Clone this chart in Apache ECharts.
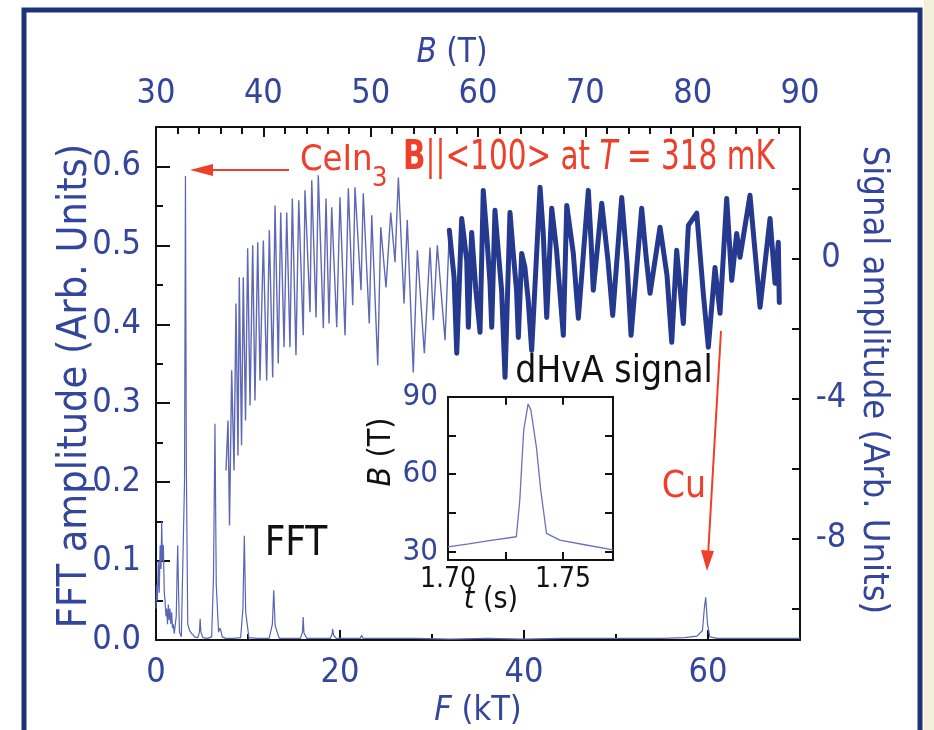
<!DOCTYPE html>
<html>
<head>
<meta charset="utf-8">
<script src="https://cdn.jsdelivr.net/npm/echarts@6/dist/echarts.min.js"></script>
<style>
  html, body { margin: 0; padding: 0; background: #ffffff; }
  #chart { width: 934px; height: 730px; }
</style>
</head>
<body>
<div id="chart"></div>
<script>
// FFT spectrum: frequency (kT) and amplitude (arb. units)
const F_kT = [0.00, 0.07, 0.15, 0.25, 0.35, 0.45, 0.55, 0.62, 0.70, 0.80, 0.90, 0.98, 1.08, 1.16, 1.25, 1.34, 1.43, 1.52, 1.61, 1.70, 1.80, 1.88, 1.98, 2.07, 2.20, 2.30, 2.36, 2.42, 2.55, 2.75, 2.95, 3.10, 3.20, 3.30, 3.45, 3.65, 3.90, 4.20, 4.55, 4.72, 4.80, 4.88, 5.10, 5.60, 6.05, 6.25, 6.41, 6.55, 6.80, 6.95, 7.05, 7.20, 7.60, 8.40, 9.20, 9.45, 9.60, 9.75, 10.10, 11.00, 12.30, 12.65, 12.80, 12.95, 13.40, 14.80, 15.70, 15.92, 16.00, 16.08, 16.40, 17.80, 18.95, 19.15, 19.20, 19.30, 19.60, 21.00, 22.20, 22.35, 22.50, 23.80, 25.40, 25.55, 25.70, 28.00, 32.00, 36.00, 40.00, 44.00, 48.00, 52.00, 55.00, 57.50, 58.80, 59.40, 59.60, 59.75, 59.95, 60.20, 61.00, 63.00, 66.00, 70.00];
const fftAmp = [0.040, 0.070, 0.050, 0.100, 0.060, 0.120, 0.090, 0.150, 0.100, 0.120, 0.060, 0.050, 0.030, 0.040, 0.020, 0.045, 0.025, 0.040, 0.020, 0.035, 0.015, 0.020, 0.008, 0.010, 0.030, 0.090, 0.120, 0.080, 0.010, 0.004, 0.006, 0.200, 0.588, 0.220, 0.020, 0.012, 0.008, 0.004, 0.003, 0.010, 0.027, 0.010, 0.003, 0.002, 0.004, 0.080, 0.274, 0.070, 0.010, 0.015, 0.012, 0.004, 0.002, 0.002, 0.003, 0.040, 0.132, 0.035, 0.003, 0.002, 0.002, 0.020, 0.063, 0.018, 0.002, 0.002, 0.002, 0.010, 0.029, 0.009, 0.002, 0.002, 0.002, 0.008, 0.014, 0.006, 0.002, 0.002, 0.002, 0.006, 0.002, 0.002, 0.002, 0.004, 0.002, 0.002, 0.001, 0.002, 0.001, 0.002, 0.002, 0.002, 0.002, 0.003, 0.005, 0.012, 0.040, 0.054, 0.020, 0.004, 0.002, 0.002, 0.002, 0.002];

// dHvA signal vs field, lower-field part (B in T, signal in arb. units)
const B_low = [36.52, 36.71, 36.85, 37.05, 37.27, 37.45, 37.64, 37.76, 37.97, 38.13, 38.34, 38.54, 38.76, 39.01, 39.22, 39.48, 39.69, 40.00, 40.31, 40.56, 40.87, 41.09, 41.39, 41.62, 41.93, 42.18, 42.48, 42.70, 43.04, 43.30, 43.72, 43.88, 44.35, 44.51, 44.91, 45.12, 45.59, 45.84, 46.12, 46.37, 46.84, 47.14, 47.61, 47.92, 48.33, 48.54, 49.10, 49.31, 49.87, 50.10, 50.66, 50.94, 51.43, 51.87, 52.27, 52.58, 53.11, 53.41, 53.97, 54.35, 55.00, 55.53, 55.84, 56.21, 56.93, 57.33];
const sig_low = [-6.06, -4.63, -7.63, -3.20, -6.06, -1.29, -5.63, -0.54, -5.34, -0.54, -4.63, 0.29, -4.20, 0.37, -4.06, 0.46, -3.49, 0.51, -3.49, 0.80, -3.40, 1.51, -3.00, 1.31, -2.54, 1.31, -2.54, 1.71, -2.77, 1.66, -2.20, 1.94, -1.54, 2.23, -1.69, 2.37, -2.00, 1.71, -1.86, 1.46, -1.97, 1.74, -2.20, 2.00, -1.34, 2.03, -0.91, 1.86, -1.86, 1.23, -3.06, 0.89, -0.83, 1.31, -0.11, 2.31, -1.29, 1.09, -3.26, 0.23, -2.71, 0.31, -1.77, 0.37, -2.34, 0.80];

// dHvA signal, higher-field part: sawtooth cycles (peak, decay, dip)
const B_high = [57.33, 57.77, 58.02, 58.48, 58.95, 59.10, 59.41, 59.80, 60.19, 60.49, 60.80, 61.12, 61.28, 61.58, 61.88, 62.20, 62.52, 62.98, 63.26, 63.59, 63.76, 64.07, 64.37, 64.68, 65.00, 65.78, 66.08, 66.40, 66.87, 67.32, 67.95, 68.27, 68.88, 69.35, 70.28, 70.53, 70.74, 71.53, 72.11, 72.55, 73.39, 73.88, 74.26, 75.25, 75.65, 76.03, 76.96, 77.61, 78.05, 78.51, 79.13, 79.60, 80.38, 80.99, 81.46, 82.08, 82.55, 83.17, 83.64, 84.10, 84.41, 85.34, 86.28, 87.21, 87.67, 87.98, 88.07];
const sig_high = [0.80, -0.54, -2.71, 1.14, -0.06, -1.97, 0.74, -0.91, -2.11, 1.94, 0.71, -0.71, -1.97, 1.37, 0.23, -0.91, -3.40, 1.31, 0.23, -0.91, -2.26, 0.14, -0.26, -1.20, -2.63, 2.03, 0.71, -1.69, 1.43, 0.23, -2.20, 1.51, 0.14, -1.71, 1.94, 0.51, -0.91, 1.57, -0.06, -1.63, 1.74, -0.11, -2.20, 1.43, 0.09, -1.00, 0.89, -0.49, -2.40, 0.23, -1.86, 0.94, 1.29, -1.00, -2.54, -0.26, -1.57, 1.71, -0.63, 0.71, 0.03, 1.80, -1.40, 1.14, -0.71, 0.46, -1.26];

// Field pulse (inset): time (s) and field (T)
const t_s = [1.7000, 1.7090, 1.7180, 1.7297, 1.7312, 1.7329, 1.7348, 1.7360, 1.7384, 1.7403, 1.7428, 1.7486, 1.7600, 1.7717];
const B_pulse = [31.9, 33.0, 34.3, 35.8, 50.0, 77.1, 87.2, 84.9, 70.6, 53.9, 37.1, 34.5, 32.6, 30.7];

// Tick labels
const fTicks = [0, 20, 40, 60];
const fMinor = [10, 30, 50];
const bTicks = [30, 40, 50, 60, 70, 80, 90];
const ampTicks = [0, 0.1, 0.2, 0.3, 0.4, 0.5, 0.6];
const ampMinor = [0.05, 0.15, 0.25, 0.35, 0.45, 0.55];
const sigLabels = [-8, -4, 0];
const sigTicks = [-10, -8, -6, -4, -2, 0, 2];
const insetBTicks = [30, 45, 60, 75, 90];
const insetBLabels = [30, 60, 90];
const insetTLabels = [1.70, 1.75];

const zip = (xs, ys) => xs.map((x, i) => [x, ys[i]]);
const bMinor = [];
for (let b = 32; b < 90; b += 2) if (b % 10) bMinor.push(b);

const FONT = "'DejaVu Sans Condensed', 'Liberation Sans', Arial, sans-serif";
const BLUE = '#34469c';
const RED = '#ee3f2a';
const INK = '#111';
const AXIS = { onZero: false, lineStyle: { color: INK, width: 2 } };
const NOLINE = { show: false, onZero: false };
const tick = (len, values) => ({ inside: true, length: len, lineStyle: { color: INK, width: 2 }, customValues: values });

const chart = echarts.init(document.getElementById('chart'), null, { renderer: 'canvas' });

const hidden = { show: false };
function axis(base) { return Object.assign({ type: 'value', splitLine: hidden, axisPointer: hidden }, base); }

const option = {
  animation: false,
  backgroundColor: '#ffffff',
  grid: [
    { left: 156, top: 127, width: 644, height: 513 },
    { left: 448, top: 396.7, width: 165, height: 163.3 }
  ],
  xAxis: [
    axis({ gridIndex: 0, position: 'bottom', min: 0, max: 70, axisLine: AXIS, axisTick: tick(10, fTicks),
      axisLabel: { customValues: fTicks, margin: 16, color: BLUE, fontSize: 34, fontFamily: FONT } }),
    axis({ gridIndex: 0, position: 'bottom', min: 0, max: 70, axisLine: NOLINE, axisTick: tick(6, fMinor), axisLabel: hidden }),
    axis({ gridIndex: 0, position: 'top', min: 30, max: 90, axisLine: AXIS, axisTick: tick(10, bTicks),
      axisLabel: { customValues: bTicks, margin: 16, color: BLUE, fontSize: 34, fontFamily: FONT } }),
    axis({ gridIndex: 0, position: 'top', min: 30, max: 90, axisLine: NOLINE, axisTick: tick(7, bMinor), axisLabel: hidden }),
    axis({ gridIndex: 1, position: 'bottom', min: 1.70, max: 1.7717, axisLine: AXIS, axisTick: tick(8, [1.725, 1.75]),
      axisLabel: { customValues: insetTLabels, margin: 6, color: INK, fontSize: 28, fontFamily: FONT, formatter: v => v.toFixed(2) } }),
    axis({ gridIndex: 1, position: 'top', min: 1.70, max: 1.7717, axisLine: AXIS, axisTick: tick(8, [1.725, 1.75]), axisLabel: hidden })
  ],
  yAxis: [
    axis({ gridIndex: 0, position: 'left', min: 0, max: 0.65, axisLine: AXIS, axisTick: tick(14, ampTicks),
      axisLabel: { customValues: ampTicks, margin: 15, color: BLUE, fontSize: 34, fontFamily: FONT, formatter: v => v.toFixed(1) } }),
    axis({ gridIndex: 0, position: 'left', min: 0, max: 0.65, axisLine: NOLINE, axisTick: tick(7, ampMinor), axisLabel: hidden }),
    axis({ gridIndex: 0, position: 'right', min: -10.9, max: 3.75, axisLine: AXIS, axisTick: tick(8, sigTicks),
      axisLabel: { customValues: sigLabels, margin: 31, align: 'center', color: BLUE, fontSize: 34, fontFamily: FONT } }),
    axis({ gridIndex: 1, position: 'left', min: 26.8, max: 90, axisLine: AXIS, axisTick: tick(8, insetBTicks),
      axisLabel: { customValues: insetBLabels, margin: 10, color: BLUE, fontSize: 31, fontFamily: FONT } }),
    axis({ gridIndex: 1, position: 'right', min: 26.8, max: 90, axisLine: AXIS, axisTick: tick(8, insetBTicks), axisLabel: hidden })
  ],
  series: [
    { type: 'line', name: 'FFT', xAxisIndex: 0, yAxisIndex: 0, data: zip(F_kT, fftAmp),
      showSymbol: false, symbol: 'none', lineStyle: { color: '#5a64b4', width: 1.2 }, z: 3 },
    { type: 'line', name: 'dHvA low', xAxisIndex: 2, yAxisIndex: 2, data: zip(B_low, sig_low),
      showSymbol: false, symbol: 'none', lineStyle: { color: '#5f68b4', width: 1.4 }, z: 3 },
    { type: 'line', name: 'dHvA high', xAxisIndex: 2, yAxisIndex: 2, data: zip(B_high, sig_high),
      showSymbol: false, symbol: 'none', lineStyle: { color: '#25398f', width: 5, join: 'round', cap: 'round' }, z: 3 },
    { type: 'line', name: 'pulse', xAxisIndex: 4, yAxisIndex: 3, data: zip(t_s, B_pulse),
      showSymbol: false, symbol: 'none', lineStyle: { color: '#6a72bb', width: 1.3 }, z: 3 }
  ],
  graphic: [
    // outer frame
    { type: 'rect', z: 50, shape: { x: 24, y: 10, width: 896, height: 740 },
      style: { fill: null, stroke: '#1e3377', lineWidth: 5 } },
    { type: 'rect', z: 49, shape: { x: 924, y: 0, width: 10, height: 730 }, style: { fill: '#f3efd8' } },
    // axis titles
    { type: 'text', z: 60, x: 452, y: 53, style: { text: '{i|B} (T)', align: 'center', verticalAlign: 'middle',
      fill: BLUE, font: '33px ' + FONT, rich: { i: { fontStyle: 'italic', fontSize: 33, fontFamily: FONT, fill: BLUE } } } },
    { type: 'text', z: 60, x: 478, y: 711, style: { text: '{i|F} (kT)', align: 'center', verticalAlign: 'middle',
      fill: BLUE, font: '34px ' + FONT, rich: { i: { fontStyle: 'italic', fontSize: 34, fontFamily: FONT, fill: BLUE } } } },
    { type: 'text', z: 60, x: 75, y: 386, rotation: Math.PI / 2, style: { text: 'FFT amplitude (Arb. Units)',
      align: 'center', verticalAlign: 'middle', fill: BLUE, font: '41px ' + FONT } },
    { type: 'text', z: 60, x: 873, y: 380, rotation: -Math.PI / 2, style: { text: 'Signal amplitude (Arb. Units)',
      align: 'center', verticalAlign: 'middle', fill: BLUE, font: '36px ' + FONT } },
    // inset titles
    { type: 'text', z: 60, x: 382, y: 452, rotation: Math.PI / 2, style: { text: '{i|B} (T)', align: 'center', verticalAlign: 'middle',
      fill: INK, font: '32px ' + FONT, rich: { i: { fontStyle: 'italic', fontSize: 32, fontFamily: FONT, fill: INK } } } },
    { type: 'text', z: 60, x: 491, y: 600, style: { text: '{i|t} (s)', align: 'center', verticalAlign: 'middle',
      fill: INK, font: '30px ' + FONT, rich: { i: { fontStyle: 'italic', fontSize: 30, fontFamily: FONT, fill: INK } } } },
    // labels
    { type: 'text', z: 60, x: 296, y: 545, style: { text: 'FFT', align: 'center', verticalAlign: 'middle', fill: INK, font: '40px ' + FONT } },
    { type: 'text', z: 60, x: 614, y: 372, style: { text: 'dHvA signal', align: 'center', verticalAlign: 'middle', fill: INK, font: '37px ' + FONT } },
    { type: 'text', z: 60, x: 300, y: 161, style: { text: 'CeIn', align: 'left', verticalAlign: 'middle', fill: RED, font: '36px ' + FONT } },
    { type: 'text', z: 60, x: 372, y: 179, style: { text: '3', align: 'left', verticalAlign: 'middle', fill: RED, font: '27px ' + FONT } },
    { type: 'text', z: 60, x: 403, y: 159, scaleX: 0.82, style: { text: '{b|B}||<100> at {i|T} = 318 mK', align: 'left', verticalAlign: 'middle',
      fill: RED, font: '40px ' + FONT,
      rich: { b: { fontWeight: 'bold', fontSize: 40, fontFamily: FONT, fill: RED }, i: { fontStyle: 'italic', fontSize: 40, fontFamily: FONT, fill: RED } } } },
    { type: 'text', z: 60, x: 684, y: 487, style: { text: 'Cu', align: 'center', verticalAlign: 'middle', fill: RED, font: '37px ' + FONT } },
    // arrows
    { type: 'line', z: 60, shape: { x1: 289, y1: 170, x2: 205, y2: 170 }, style: { stroke: RED, lineWidth: 2 } },
    { type: 'polygon', z: 60, shape: { points: [[190, 170], [213, 164], [213, 176]] }, style: { fill: RED } },
    { type: 'line', z: 60, shape: { x1: 721, y1: 331, x2: 708, y2: 556 }, style: { stroke: RED, lineWidth: 2 } },
    { type: 'polygon', z: 60, shape: { points: [[707, 571], [701, 550], [714, 551]] }, style: { fill: RED } }
  ]
};

chart.setOption(option);
</script>
</body>
</html>
